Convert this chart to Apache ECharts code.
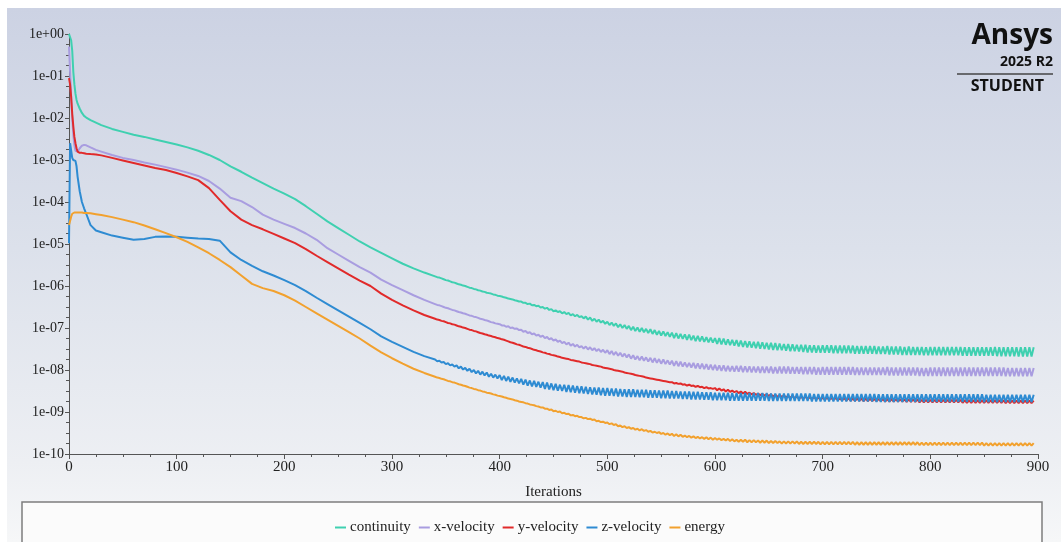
<!DOCTYPE html>
<html>
<head>
<meta charset="utf-8">
<title>Residuals</title>
<script src="https://cdn.jsdelivr.net/npm/echarts@6/dist/echarts.min.js"></script>
<style>
  html, body { margin: 0; padding: 0; background: #fff; }
  #frame {
    position: absolute; left: 7px; top: 8px; width: 1054px; height: 534px;
    background: linear-gradient(to bottom, #ccd2e3 0%, #dce1eb 45%, #edeff3 85%, #f6f7f8 100%);
  }
  #main { position: absolute; left: 0; top: 0; width: 1061px; height: 542px; }
</style>
</head>
<body>
<div id="frame"></div>
<div id="main"></div>
<script>
// residual history; values are log10 of the scaled residual
const iterations = [
  0, 1, 2, 3, 4, 5, 6, 7, 8, 10, 12, 14, 16, 20, 25, 30,
  40, 50, 60, 70, 80, 90, 100, 110, 120, 130,
  140, 150, 160, 170, 180, 190, 200, 210, 220, 230,
  240, 250, 260, 270, 280, 290, 300, 310, 320, 330,
  340, 342, 344, 346, 348, 350, 352, 354, 356, 358,
  360, 362, 364, 366, 368, 370, 372, 374, 376, 378,
  380, 382, 384, 386, 388, 390, 392, 394, 396, 398,
  400, 402, 404, 406, 408, 410, 412, 414, 416, 418,
  420, 422, 424, 426, 428, 430, 432, 434, 436, 438,
  440, 442, 444, 446, 448, 450, 452, 454, 456, 458,
  460, 462, 464, 466, 468, 470, 472, 474, 476, 478,
  480, 482, 484, 486, 488, 490, 492, 494, 496, 498,
  500, 502, 504, 506, 508, 510, 512, 514, 516, 518,
  520, 522, 524, 526, 528, 530, 532, 534, 536, 538,
  540, 542, 544, 546, 548, 550, 552, 554, 556, 558,
  560, 562, 564, 566, 568, 570, 572, 574, 576, 578,
  580, 582, 584, 586, 588, 590, 592, 594, 596, 598,
  600, 602, 604, 606, 608, 610, 612, 614, 616, 618,
  620, 622, 624, 626, 628, 630, 632, 634, 636, 638,
  640, 642, 644, 646, 648, 650, 652, 654, 656, 658,
  660, 662, 664, 666, 668, 670, 672, 674, 676, 678,
  680, 682, 684, 686, 688, 690, 692, 694, 696, 698,
  700, 702, 704, 706, 708, 710, 712, 714, 716, 718,
  720, 722, 724, 726, 728, 730, 732, 734, 736, 738,
  740, 742, 744, 746, 748, 750, 752, 754, 756, 758,
  760, 762, 764, 766, 768, 770, 772, 774, 776, 778,
  780, 782, 784, 786, 788, 790, 792, 794, 796, 798,
  800, 802, 804, 806, 808, 810, 812, 814, 816, 818,
  820, 822, 824, 826, 828, 830, 832, 834, 836, 838,
  840, 842, 844, 846, 848, 850, 852, 854, 856, 858,
  860, 862, 864, 866, 868, 870, 872, 874, 876, 878,
  880, 882, 884, 886, 888, 890, 892, 894, 896
];

const continuity = [
  0, -0.02, -0.15, -0.40, -0.90, -1.20, -1.42, -1.57, -1.66, -1.78, -1.88, -1.95, -1.99, -2.05, -2.11, -2.17,
  -2.26, -2.33, -2.40, -2.45, -2.51, -2.57, -2.63, -2.70, -2.78, -2.88,
  -3.00, -3.15, -3.28, -3.42, -3.55, -3.68, -3.80, -3.93, -4.10, -4.28,
  -4.46, -4.62, -4.78, -4.94, -5.08, -5.21, -5.34, -5.47, -5.58, -5.68,
  -5.77, -5.79, -5.80, -5.82, -5.84, -5.86, -5.87, -5.89, -5.91, -5.92,
  -5.94, -5.96, -5.97, -5.99, -6.00, -6.02, -6.04, -6.05, -6.07, -6.08,
  -6.10, -6.11, -6.13, -6.14, -6.16, -6.17, -6.18, -6.20, -6.21, -6.23,
  -6.24, -6.25, -6.27, -6.28, -6.30, -6.31, -6.32, -6.34, -6.35, -6.37,
  -6.37, -6.40, -6.40, -6.43, -6.42, -6.46, -6.45, -6.48, -6.47, -6.51,
  -6.50, -6.54, -6.52, -6.57, -6.55, -6.60, -6.58, -6.62, -6.60, -6.65,
  -6.62, -6.67, -6.64, -6.70, -6.67, -6.72, -6.69, -6.74, -6.72, -6.77,
  -6.73, -6.80, -6.75, -6.83, -6.78, -6.85, -6.80, -6.87, -6.83, -6.90,
  -6.85, -6.93, -6.87, -6.95, -6.89, -6.98, -6.91, -7.00, -6.93, -7.02,
  -6.95, -7.05, -6.97, -7.07, -6.99, -7.09, -7.00, -7.10, -7.02, -7.12,
  -7.03, -7.14, -7.05, -7.16, -7.07, -7.18, -7.08, -7.19, -7.10, -7.21,
  -7.11, -7.24, -7.12, -7.25, -7.14, -7.26, -7.15, -7.28, -7.16, -7.29,
  -7.18, -7.31, -7.19, -7.32, -7.20, -7.33, -7.22, -7.34, -7.23, -7.35,
  -7.24, -7.38, -7.24, -7.39, -7.25, -7.40, -7.27, -7.41, -7.28, -7.42,
  -7.29, -7.44, -7.30, -7.45, -7.31, -7.46, -7.32, -7.47, -7.33, -7.48,
  -7.33, -7.49, -7.34, -7.50, -7.35, -7.51, -7.35, -7.52, -7.36, -7.53,
  -7.37, -7.53, -7.38, -7.54, -7.38, -7.55, -7.39, -7.55, -7.40, -7.56,
  -7.40, -7.57, -7.40, -7.58, -7.41, -7.58, -7.41, -7.59, -7.42, -7.59,
  -7.41, -7.59, -7.41, -7.59, -7.41, -7.60, -7.42, -7.60, -7.42, -7.60,
  -7.42, -7.60, -7.42, -7.60, -7.42, -7.61, -7.43, -7.61, -7.43, -7.61,
  -7.43, -7.61, -7.43, -7.61, -7.43, -7.62, -7.44, -7.62, -7.44, -7.62,
  -7.43, -7.63, -7.44, -7.63, -7.44, -7.63, -7.44, -7.64, -7.45, -7.64,
  -7.44, -7.64, -7.45, -7.64, -7.45, -7.64, -7.45, -7.65, -7.46, -7.65,
  -7.45, -7.65, -7.45, -7.65, -7.45, -7.65, -7.45, -7.65, -7.45, -7.65,
  -7.45, -7.65, -7.45, -7.65, -7.45, -7.66, -7.46, -7.66, -7.46, -7.66,
  -7.46, -7.66, -7.46, -7.66, -7.46, -7.66, -7.46, -7.66, -7.46, -7.66,
  -7.45, -7.67, -7.46, -7.67, -7.46, -7.67, -7.46, -7.67, -7.46, -7.67,
  -7.46, -7.68, -7.46, -7.68, -7.46, -7.68, -7.46, -7.68, -7.46
];

const xVelocity = [
  -0.30, -0.90, -1.50, -2.00, -2.40, -2.65, -2.78, -2.82, -2.80, -2.72, -2.66, -2.64, -2.65, -2.70, -2.76, -2.80,
  -2.88, -2.95, -3.00, -3.06, -3.11, -3.17, -3.23, -3.30, -3.38, -3.50,
  -3.68, -3.90, -3.98, -4.12, -4.30, -4.42, -4.52, -4.62, -4.75, -4.90,
  -5.10, -5.25, -5.40, -5.55, -5.68, -5.85, -5.98, -6.10, -6.22, -6.33,
  -6.43, -6.45, -6.46, -6.48, -6.50, -6.52, -6.53, -6.55, -6.57, -6.58,
  -6.60, -6.62, -6.63, -6.65, -6.66, -6.68, -6.70, -6.71, -6.73, -6.74,
  -6.76, -6.78, -6.79, -6.81, -6.82, -6.84, -6.86, -6.87, -6.89, -6.90,
  -6.91, -6.94, -6.94, -6.97, -6.96, -7.00, -6.99, -7.02, -7.01, -7.05,
  -7.04, -7.09, -7.07, -7.12, -7.10, -7.15, -7.13, -7.18, -7.16, -7.21,
  -7.18, -7.24, -7.21, -7.27, -7.24, -7.30, -7.27, -7.33, -7.30, -7.36,
  -7.33, -7.39, -7.35, -7.42, -7.38, -7.44, -7.40, -7.46, -7.43, -7.49,
  -7.44, -7.51, -7.46, -7.53, -7.48, -7.55, -7.50, -7.57, -7.52, -7.59,
  -7.53, -7.62, -7.55, -7.64, -7.57, -7.66, -7.59, -7.68, -7.61, -7.70,
  -7.63, -7.73, -7.65, -7.75, -7.67, -7.77, -7.68, -7.78, -7.70, -7.80,
  -7.71, -7.82, -7.72, -7.83, -7.74, -7.85, -7.75, -7.86, -7.77, -7.87,
  -7.78, -7.90, -7.79, -7.91, -7.80, -7.92, -7.82, -7.93, -7.83, -7.94,
  -7.83, -7.96, -7.84, -7.97, -7.85, -7.98, -7.86, -7.99, -7.87, -8.00,
  -7.88, -8.01, -7.89, -8.02, -7.89, -8.03, -7.90, -8.03, -7.91, -8.04,
  -7.90, -8.04, -7.90, -8.05, -7.91, -8.05, -7.91, -8.06, -7.92, -8.06,
  -7.92, -8.07, -7.92, -8.07, -7.92, -8.07, -7.92, -8.08, -7.93, -8.08,
  -7.92, -8.08, -7.92, -8.08, -7.92, -8.09, -7.93, -8.09, -7.93, -8.09,
  -7.93, -8.10, -7.93, -8.10, -7.93, -8.10, -7.93, -8.11, -7.94, -8.11,
  -7.93, -8.11, -7.93, -8.11, -7.93, -8.11, -7.93, -8.11, -7.93, -8.11,
  -7.93, -8.11, -7.93, -8.11, -7.93, -8.12, -7.94, -8.12, -7.94, -8.12,
  -7.94, -8.12, -7.94, -8.12, -7.94, -8.12, -7.94, -8.12, -7.94, -8.12,
  -7.93, -8.13, -7.94, -8.13, -7.94, -8.13, -7.94, -8.13, -7.94, -8.13,
  -7.94, -8.13, -7.94, -8.13, -7.94, -8.14, -7.95, -8.14, -7.95, -8.14,
  -7.94, -8.14, -7.94, -8.14, -7.94, -8.14, -7.94, -8.14, -7.94, -8.14,
  -7.94, -8.14, -7.94, -8.14, -7.94, -8.14, -7.94, -8.14, -7.94, -8.14,
  -7.94, -8.14, -7.94, -8.14, -7.94, -8.14, -7.94, -8.14, -7.94, -8.14,
  -7.94, -8.14, -7.94, -8.14, -7.94, -8.15, -7.95, -8.15, -7.95, -8.15,
  -7.95, -8.15, -7.95, -8.15, -7.95, -8.15, -7.95, -8.15, -7.95
];

const yVelocity = [
  -1.05, -1.20, -1.50, -1.90, -2.20, -2.45, -2.60, -2.72, -2.80, -2.83, -2.83, -2.84, -2.85, -2.86, -2.87, -2.89,
  -2.95, -3.01, -3.07, -3.13, -3.19, -3.24, -3.31, -3.39, -3.48, -3.67,
  -3.95, -4.22, -4.42, -4.55, -4.65, -4.76, -4.87, -4.98, -5.12, -5.28,
  -5.43, -5.58, -5.73, -5.87, -6.00, -6.18, -6.33, -6.46, -6.58, -6.69,
  -6.78, -6.80, -6.81, -6.83, -6.84, -6.86, -6.88, -6.89, -6.91, -6.92,
  -6.94, -6.96, -6.97, -6.99, -7.00, -7.02, -7.04, -7.05, -7.07, -7.08,
  -7.10, -7.12, -7.13, -7.15, -7.16, -7.18, -7.19, -7.21, -7.22, -7.24,
  -7.25, -7.27, -7.28, -7.30, -7.32, -7.34, -7.35, -7.37, -7.39, -7.40,
  -7.42, -7.44, -7.45, -7.47, -7.48, -7.50, -7.52, -7.53, -7.55, -7.56,
  -7.58, -7.59, -7.61, -7.62, -7.64, -7.65, -7.66, -7.68, -7.69, -7.71,
  -7.72, -7.73, -7.74, -7.76, -7.77, -7.78, -7.79, -7.80, -7.82, -7.83,
  -7.84, -7.85, -7.86, -7.88, -7.89, -7.90, -7.91, -7.92, -7.94, -7.95,
  -7.96, -7.97, -7.98, -8.00, -8.01, -8.02, -8.03, -8.04, -8.06, -8.07,
  -8.08, -8.09, -8.10, -8.12, -8.13, -8.14, -8.15, -8.16, -8.18, -8.19,
  -8.20, -8.21, -8.22, -8.23, -8.24, -8.25, -8.26, -8.27, -8.28, -8.29,
  -8.29, -8.32, -8.31, -8.33, -8.32, -8.35, -8.34, -8.37, -8.35, -8.38,
  -8.37, -8.40, -8.38, -8.41, -8.40, -8.43, -8.41, -8.44, -8.43, -8.45,
  -8.43, -8.48, -8.44, -8.49, -8.46, -8.51, -8.47, -8.52, -8.49, -8.53,
  -8.50, -8.55, -8.51, -8.56, -8.52, -8.57, -8.54, -8.58, -8.55, -8.59,
  -8.56, -8.60, -8.57, -8.61, -8.58, -8.62, -8.58, -8.63, -8.59, -8.64,
  -8.60, -8.64, -8.61, -8.65, -8.62, -8.66, -8.62, -8.67, -8.63, -8.68,
  -8.64, -8.68, -8.64, -8.68, -8.65, -8.69, -8.65, -8.69, -8.66, -8.70,
  -8.66, -8.70, -8.66, -8.70, -8.67, -8.71, -8.67, -8.71, -8.68, -8.72,
  -8.67, -8.73, -8.67, -8.73, -8.68, -8.73, -8.68, -8.73, -8.68, -8.74,
  -8.68, -8.74, -8.68, -8.74, -8.69, -8.74, -8.69, -8.74, -8.69, -8.75,
  -8.69, -8.75, -8.69, -8.75, -8.70, -8.75, -8.70, -8.75, -8.70, -8.76,
  -8.70, -8.76, -8.70, -8.76, -8.70, -8.77, -8.71, -8.77, -8.71, -8.77,
  -8.71, -8.77, -8.71, -8.77, -8.71, -8.77, -8.71, -8.77, -8.71, -8.77,
  -8.71, -8.77, -8.71, -8.77, -8.71, -8.78, -8.72, -8.78, -8.72, -8.78,
  -8.72, -8.78, -8.72, -8.78, -8.72, -8.78, -8.72, -8.78, -8.72, -8.78,
  -8.72, -8.78, -8.72, -8.78, -8.72, -8.79, -8.73, -8.79, -8.73, -8.79,
  -8.73, -8.79, -8.73, -8.79, -8.73, -8.79, -8.73, -8.79, -8.73
];

const zVelocity = [
  -4.98, -2.60, -2.60, -2.95, -3.00, -3.00, -3.02, -3.15, -3.40, -3.75, -4.00, -4.15, -4.28, -4.55, -4.68, -4.72,
  -4.80, -4.85, -4.90, -4.88, -4.83, -4.82, -4.83, -4.85, -4.87, -4.88,
  -4.92, -5.20, -5.38, -5.52, -5.65, -5.75, -5.86, -5.98, -6.12, -6.28,
  -6.43, -6.58, -6.73, -6.88, -7.03, -7.20, -7.33, -7.45, -7.57, -7.67,
  -7.75, -7.79, -7.78, -7.82, -7.81, -7.86, -7.84, -7.89, -7.87, -7.92,
  -7.89, -7.96, -7.92, -7.99, -7.95, -8.02, -7.97, -8.05, -8.00, -8.08,
  -8.02, -8.11, -8.04, -8.13, -8.06, -8.16, -8.09, -8.18, -8.11, -8.20,
  -8.12, -8.24, -8.14, -8.26, -8.16, -8.28, -8.18, -8.30, -8.20, -8.32,
  -8.21, -8.35, -8.23, -8.37, -8.25, -8.39, -8.26, -8.40, -8.28, -8.42,
  -8.29, -8.45, -8.30, -8.46, -8.32, -8.48, -8.33, -8.49, -8.35, -8.50,
  -8.35, -8.52, -8.36, -8.53, -8.37, -8.54, -8.38, -8.55, -8.39, -8.56,
  -8.40, -8.57, -8.41, -8.58, -8.42, -8.59, -8.42, -8.60, -8.43, -8.61,
  -8.43, -8.61, -8.44, -8.62, -8.44, -8.63, -8.45, -8.63, -8.46, -8.64,
  -8.46, -8.64, -8.46, -8.64, -8.47, -8.65, -8.47, -8.65, -8.47, -8.66,
  -8.48, -8.66, -8.48, -8.66, -8.49, -8.67, -8.49, -8.67, -8.49, -8.68,
  -8.50, -8.68, -8.50, -8.68, -8.51, -8.69, -8.51, -8.69, -8.51, -8.70,
  -8.52, -8.70, -8.52, -8.70, -8.53, -8.71, -8.53, -8.71, -8.53, -8.72,
  -8.54, -8.72, -8.54, -8.72, -8.54, -8.72, -8.54, -8.73, -8.55, -8.73,
  -8.55, -8.73, -8.55, -8.73, -8.55, -8.73, -8.55, -8.73, -8.55, -8.73,
  -8.55, -8.73, -8.55, -8.73, -8.55, -8.74, -8.56, -8.74, -8.56, -8.74,
  -8.56, -8.74, -8.56, -8.74, -8.56, -8.74, -8.56, -8.74, -8.56, -8.74,
  -8.56, -8.74, -8.56, -8.74, -8.56, -8.75, -8.57, -8.75, -8.57, -8.75,
  -8.57, -8.75, -8.57, -8.75, -8.57, -8.75, -8.57, -8.75, -8.57, -8.75,
  -8.57, -8.75, -8.57, -8.75, -8.57, -8.75, -8.57, -8.75, -8.57, -8.75,
  -8.57, -8.75, -8.57, -8.75, -8.57, -8.76, -8.58, -8.76, -8.58, -8.76,
  -8.58, -8.76, -8.58, -8.76, -8.58, -8.76, -8.58, -8.76, -8.58, -8.76,
  -8.58, -8.76, -8.58, -8.76, -8.58, -8.76, -8.58, -8.76, -8.58, -8.76,
  -8.58, -8.76, -8.58, -8.76, -8.58, -8.76, -8.58, -8.76, -8.58, -8.76,
  -8.58, -8.76, -8.58, -8.76, -8.58, -8.76, -8.58, -8.76, -8.58, -8.76,
  -8.58, -8.76, -8.58, -8.76, -8.58, -8.77, -8.59, -8.77, -8.59, -8.77,
  -8.59, -8.77, -8.59, -8.77, -8.59, -8.77, -8.59, -8.77, -8.59, -8.77,
  -8.59, -8.77, -8.59, -8.77, -8.59, -8.77, -8.59, -8.77, -8.59
];

const energy = [
  -4.55, -4.45, -4.35, -4.28, -4.26, -4.25, -4.25, -4.25, -4.25, -4.25, -4.25, -4.26, -4.26, -4.27, -4.29, -4.31,
  -4.36, -4.42, -4.48, -4.56, -4.65, -4.74, -4.84, -4.95, -5.08, -5.22,
  -5.38, -5.55, -5.75, -5.95, -6.05, -6.12, -6.22, -6.35, -6.50, -6.65,
  -6.80, -6.95, -7.10, -7.25, -7.42, -7.58, -7.72, -7.85, -7.97, -8.07,
  -8.16, -8.18, -8.19, -8.21, -8.22, -8.24, -8.26, -8.27, -8.29, -8.30,
  -8.32, -8.34, -8.35, -8.37, -8.38, -8.40, -8.42, -8.43, -8.45, -8.46,
  -8.48, -8.49, -8.51, -8.52, -8.54, -8.55, -8.56, -8.58, -8.59, -8.61,
  -8.62, -8.63, -8.65, -8.66, -8.68, -8.69, -8.70, -8.72, -8.73, -8.75,
  -8.76, -8.77, -8.79, -8.80, -8.82, -8.83, -8.84, -8.86, -8.87, -8.89,
  -8.89, -8.92, -8.92, -8.95, -8.94, -8.98, -8.97, -9.00, -8.99, -9.03,
  -9.02, -9.05, -9.04, -9.08, -9.07, -9.10, -9.09, -9.12, -9.12, -9.15,
  -9.14, -9.17, -9.16, -9.19, -9.18, -9.22, -9.21, -9.24, -9.23, -9.26,
  -9.25, -9.29, -9.27, -9.31, -9.29, -9.34, -9.32, -9.36, -9.34, -9.38,
  -9.36, -9.40, -9.38, -9.42, -9.40, -9.44, -9.41, -9.45, -9.43, -9.47,
  -9.45, -9.49, -9.47, -9.50, -9.48, -9.52, -9.50, -9.54, -9.51, -9.55,
  -9.52, -9.57, -9.53, -9.58, -9.54, -9.59, -9.56, -9.60, -9.57, -9.61,
  -9.58, -9.62, -9.59, -9.63, -9.60, -9.64, -9.60, -9.65, -9.61, -9.66,
  -9.62, -9.66, -9.63, -9.67, -9.64, -9.68, -9.64, -9.69, -9.65, -9.70,
  -9.66, -9.71, -9.66, -9.71, -9.66, -9.72, -9.67, -9.72, -9.67, -9.72,
  -9.68, -9.73, -9.68, -9.73, -9.68, -9.74, -9.69, -9.74, -9.69, -9.74,
  -9.70, -9.75, -9.70, -9.75, -9.70, -9.75, -9.70, -9.75, -9.70, -9.76,
  -9.71, -9.76, -9.71, -9.76, -9.71, -9.76, -9.71, -9.76, -9.71, -9.77,
  -9.71, -9.77, -9.71, -9.77, -9.71, -9.77, -9.71, -9.77, -9.71, -9.77,
  -9.71, -9.77, -9.71, -9.77, -9.71, -9.78, -9.72, -9.78, -9.72, -9.78,
  -9.72, -9.78, -9.72, -9.78, -9.72, -9.78, -9.72, -9.78, -9.72, -9.78,
  -9.72, -9.78, -9.72, -9.78, -9.72, -9.78, -9.72, -9.78, -9.72, -9.78,
  -9.72, -9.78, -9.72, -9.78, -9.72, -9.79, -9.73, -9.79, -9.73, -9.79,
  -9.73, -9.79, -9.73, -9.79, -9.73, -9.79, -9.73, -9.79, -9.73, -9.79,
  -9.73, -9.79, -9.73, -9.79, -9.73, -9.79, -9.73, -9.79, -9.73, -9.79,
  -9.73, -9.79, -9.73, -9.79, -9.73, -9.80, -9.74, -9.80, -9.74, -9.80,
  -9.74, -9.80, -9.74, -9.80, -9.74, -9.80, -9.74, -9.80, -9.74, -9.80,
  -9.74, -9.80, -9.74, -9.80, -9.74, -9.80, -9.74, -9.80, -9.74
];

const seriesNames = ["continuity", "x-velocity", "y-velocity", "z-velocity", "energy"];
const seriesColors = ["#3fd0b0", "#a99de0", "#e12a2a", "#2e8bd2", "#f2a12e"];
const seriesLogs = [continuity, xVelocity, yVelocity, zVelocity, energy];

const serif = "'Liberation Serif', 'DejaVu Serif', serif";
const logoFont = "'Open Sans', 'DejaVu Sans', sans-serif";

// y axis runs on the decade exponent, labels written as 1e-NN
function expLabel(e) {
  const a = Math.abs(Math.round(e));
  return "1e" + (e < 0 ? "-" : "+") + (a < 10 ? "0" + a : a);
}

const chart = echarts.init(document.getElementById("main"), null, { renderer: "canvas" });

const option = {
  animation: false,
  backgroundColor: "transparent",
  grid: { left: 69, right: 23, top: 34, bottom: 88, containLabel: false },
  legend: {
    data: seriesNames,
    left: 330,
    top: 515,
    icon: "rect",
    itemWidth: 11,
    itemHeight: 2,
    itemGap: 8,
    textStyle: { fontFamily: serif, fontSize: 15, color: "#222", padding: [0, 0, 0, -1] }
  },
  xAxis: {
    type: "value",
    min: 0,
    max: 900,
    interval: 100,
    name: "Iterations",
    nameLocation: "middle",
    nameGap: 31,
    nameTextStyle: { fontFamily: serif, fontSize: 15, color: "#222" },
    axisLine: { onZero: false, lineStyle: { color: "#555", width: 1 } },
    axisTick: { show: true, inside: false, length: 5, lineStyle: { color: "#555" } },
    minorTick: { show: true, splitNumber: 4, length: 3, lineStyle: { color: "#555" } },
    axisLabel: { fontFamily: serif, fontSize: 15, color: "#222", margin: 6 },
    splitLine: { show: false }
  },
  yAxis: {
    type: "value",
    min: -10,
    max: 0,
    interval: 1,
    axisLine: { show: true, onZero: false, lineStyle: { color: "#555", width: 1 } },
    axisTick: { show: true, inside: false, length: 4, lineStyle: { color: "#555" } },
    minorTick: { show: true, splitNumber: 4, length: 3, lineStyle: { color: "#555" } },
    axisLabel: { fontFamily: serif, fontSize: 14, color: "#222", margin: 5, formatter: expLabel },
    splitLine: { show: false }
  },
  graphic: [
    {
      type: "rect",
      z: 0,
      shape: { x: 22, y: 502, width: 1020, height: 60 },
      style: { fill: "#fbfbfb", stroke: "#7d7d7d", lineWidth: 1.5 }
    },
    {
      type: "text",
      right: 8,
      top: 22,
      style: { text: "Ansys", font: "bold 28px " + logoFont, fill: "#111" }
    },
    {
      type: "text",
      right: 8,
      top: 55,
      style: { text: "2025 R2", font: "bold 14px " + logoFont, fill: "#111" }
    },
    {
      type: "line",
      shape: { x1: 957, y1: 74, x2: 1053, y2: 74 },
      style: { stroke: "#444", lineWidth: 1.5 }
    },
    {
      type: "text",
      right: 17,
      top: 78,
      style: { text: "STUDENT", font: "bold 16px " + logoFont, fill: "#111" }
    }
  ],
  series: seriesNames.map((name, k) => ({
    name: name,
    type: "line",
    data: iterations.map((it, i) => [it, seriesLogs[k][i]]),
    showSymbol: false,
    smooth: false,
    lineStyle: { color: seriesColors[k], width: 2 },
    itemStyle: { color: seriesColors[k] },
    z: 3 + k
  }))
};

chart.setOption(option);
window.onresize = function () {
  chart.resize();
};
</script>
</body>
</html>
